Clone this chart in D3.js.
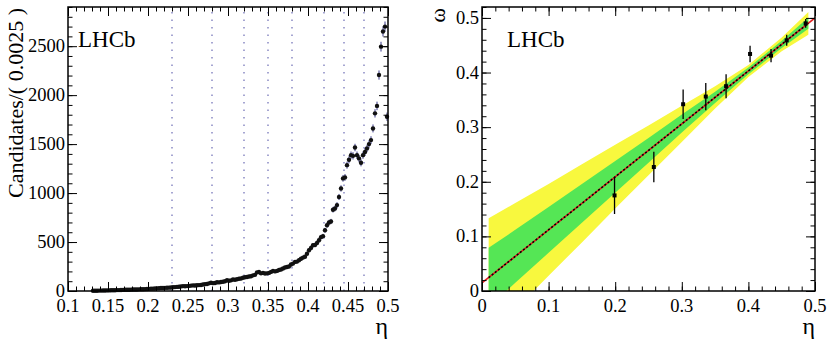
<!DOCTYPE html>
<html>
<head>
<meta charset="utf-8">
<script src="https://cdn.jsdelivr.net/npm/d3@7"></script>
</head>
<body style="margin:0">
<svg id="chart" width="833" height="346"></svg>
<script>
// ---- left panel: eta distribution, bins of 0.0025 from 0.13
var binStart = 0.13, binWidth = 0.0025;
var etaCounts = [
  2,3,3,4,4,5,5,6,
  6,7,8,8,9,9,10,11,
  12,13,13,14,15,15,16,17,
  18,18,19,21,22,24,24,25,
  27,28,30,30,32,33,34,36,
  38,40,42,44,47,50,48,50,
  52,55,57,56,58,60,62,66,
  70,72,78,84,80,82,90,88,
  92,95,100,110,105,109,118,115,
  120,125,128,135,140,143,148,150,
  160,165,190,194,180,185,178,180,
  185,195,205,200,205,215,220,230,
  240,245,250,270,280,297,300,314,
  330,341,350,380,416,440,467,470,
  490,518,550,560,620,672,700,710,
  830,843,877,960,1047,1150,1160,1285,
  1340,1387,1380,1465,1387,1354,1309,1387,
  1420,1456,1500,1541,1660,1814,1890,2205,
  2495,2650,2700,1780
];
var calibEdges = [0.23, 0.28, 0.32, 0.35, 0.38, 0.42, 0.445, 0.47];
var leftXTicks = [0.1, 0.15, 0.2, 0.25, 0.3, 0.35, 0.4, 0.45, 0.5];
var leftYTicks = [0, 500, 1000, 1500, 2000, 2500];

// ---- right panel: calibration omega vs eta
var etaPts   = [0.199, 0.258, 0.302, 0.336, 0.3665, 0.4025, 0.434, 0.4575, 0.486];
var omegaPts = [0.175, 0.227, 0.342, 0.356, 0.375, 0.434, 0.431, 0.459, 0.490];
var omegaErr = [0.034, 0.028, 0.027, 0.025, 0.022, 0.015, 0.012, 0.010, 0.008];
var fitEta = [0, 0.5];
var fitOmega = [0.015, 0.5];
var bandEta  = [0.01, 0.05, 0.1, 0.15, 0.2, 0.25, 0.3, 0.35, 0.4, 0.45, 0.49];
var band1Lo  = [-0.029, 0.015, 0.070, 0.125, 0.180, 0.235, 0.290, 0.344, 0.397, 0.445, 0.480];
var band1Hi  = [0.079, 0.112, 0.154, 0.196, 0.238, 0.280, 0.323, 0.365, 0.409, 0.458, 0.501];
var band2Lo  = [-0.083, -0.034, 0.028, 0.089, 0.151, 0.212, 0.273, 0.334, 0.392, 0.439, 0.469];
var band2Hi  = [0.133, 0.161, 0.196, 0.232, 0.268, 0.303, 0.339, 0.375, 0.414, 0.464, 0.511];
var rightXTicks = [0, 0.1, 0.2, 0.3, 0.4, 0.5];
var rightYTicks = [0, 0.1, 0.2, 0.3, 0.4, 0.5];

var svg = d3.select("#chart");
var FONT = "Liberation Serif";
var FS = 18.5;

function minorTicks(lo, hi, step) {
  var out = [];
  for (var i = 0; lo + i * step <= hi + 1e-9; i++) out.push(+(lo + i * step).toFixed(6));
  return out;
}

// plain serif text helper
function label(g, x, y, size, str) {
  return g.append("text").attr("x", x).attr("y", y)
    .attr("font-family", FONT).attr("font-size", size).text(str);
}

// ROOT-style frame, ticks pointing inward on all four sides
function drawFrame(g, x, y, xt, yt, xMinor, yMinor, xFmt, yFmt) {
  var x0 = x.range()[0], x1 = x.range()[1], y0 = y.range()[1], y1 = y.range()[0];
  var MAJ = 9, MIN = 4.5;
  function ticks(axis, tr, vals, size) {
    var a = g.append("g").attr("transform", tr)
      .call(axis.tickValues(vals).tickSize(-size).tickFormat(""));
    a.select(".domain").remove();
    a.selectAll("text").remove();
    a.selectAll("line").attr("stroke", "#000").attr("stroke-width", 1);
  }
  ticks(d3.axisBottom(x), "translate(0," + y1 + ")", xMinor, MIN);
  ticks(d3.axisTop(x), "translate(0," + y0 + ")", xMinor, MIN);
  ticks(d3.axisLeft(y), "translate(" + x0 + ",0)", yMinor, MIN);
  ticks(d3.axisRight(y), "translate(" + x1 + ",0)", yMinor, MIN);
  ticks(d3.axisBottom(x), "translate(0," + y1 + ")", xt, MAJ);
  ticks(d3.axisTop(x), "translate(0," + y0 + ")", xt, MAJ);
  ticks(d3.axisLeft(y), "translate(" + x0 + ",0)", yt, MAJ);
  ticks(d3.axisRight(y), "translate(" + x1 + ",0)", yt, MAJ);
  xt.forEach(function(v) {
    label(g, x(v), y1 + 21, FS, xFmt(v)).attr("text-anchor", "middle");
  });
  yt.forEach(function(v) {
    label(g, x0 - 3, y(v) + 6, FS, yFmt(v)).attr("text-anchor", "end");
  });
  g.append("rect").attr("x", x0).attr("y", y0).attr("width", x1 - x0).attr("height", y1 - y0)
    .attr("fill", "none").attr("stroke", "#000").attr("stroke-width", 1.5);
}

// ================= left =================
var xL = d3.scaleLinear().domain([0.1, 0.5]).range([68, 388]);
var yL = d3.scaleLinear().domain([0, 2900]).range([291, 7]);
var gL = svg.append("g");

gL.selectAll("line.edge").data(calibEdges).enter().append("line")
  .attr("x1", function(d) { return xL(d); }).attr("x2", function(d) { return xL(d); })
  .attr("y1", yL(0)).attr("y2", yL.range()[1])
  .attr("stroke", "#6c6cb4").attr("stroke-width", 1.2).attr("stroke-dasharray", "1.5,6");

var hist = etaCounts.map(function(c, i) { return { eta: binStart + (i + 0.5) * binWidth, n: c }; });
gL.selectAll("line.err").data(hist).enter().append("line")
  .attr("x1", function(d) { return xL(d.eta); }).attr("x2", function(d) { return xL(d.eta); })
  .attr("y1", function(d) { return yL(d.n + Math.sqrt(d.n)); })
  .attr("y2", function(d) { return yL(Math.max(0, d.n - Math.sqrt(d.n))); })
  .attr("stroke", "#3a3a8a").attr("stroke-width", 1);
gL.selectAll("circle").data(hist).enter().append("circle")
  .attr("cx", function(d) { return xL(d.eta); }).attr("cy", function(d) { return yL(d.n); })
  .attr("r", 2.2).attr("fill", "#111");

drawFrame(gL, xL, yL, leftXTicks, leftYTicks,
  minorTicks(0.1, 0.5, 0.01), minorTicks(0, 2900, 100),
  function(d) { return String(+d.toFixed(2)); }, function(d) { return String(d); });

label(gL, 78, 47, 23, "LHCb");
label(gL, 0, 0, 22, "Candidates/( 0.0025 )")
  .attr("transform", "translate(23,8) rotate(-90)").attr("text-anchor", "end");
label(gL, 388, 334, 24, "η").attr("text-anchor", "end");

// ================= right =================
var xR = d3.scaleLinear().domain([0, 0.5]).range([482, 815]);
var yR = d3.scaleLinear().domain([0, 0.52]).range([291, 7]);
var gR = svg.append("g");

svg.append("clipPath").attr("id", "clipR").append("rect")
  .attr("x", 482).attr("y", 7).attr("width", 333).attr("height", 284);
var gC = gR.append("g").attr("clip-path", "url(#clipR)");

function band(lo, hi) {
  return d3.area().x(function(d, i) { return xR(bandEta[i]); })
    .y0(function(d, i) { return yR(lo[i]); }).y1(function(d, i) { return yR(hi[i]); })(bandEta);
}
gC.append("path").attr("d", band(band2Lo, band2Hi)).attr("fill", "#f8f83e");
gC.append("path").attr("d", band(band1Lo, band1Hi)).attr("fill", "#55e655");

var fitLine = d3.line().x(function(d, i) { return xR(fitEta[i]); }).y(function(d, i) { return yR(fitOmega[i]); });
gC.append("path").attr("d", fitLine(fitEta)).attr("stroke", "#e02020").attr("stroke-width", 1.6).attr("fill", "none");
gC.append("line")
  .attr("x1", xR(bandEta[0])).attr("x2", xR(bandEta[bandEta.length - 1]))
  .attr("y1", yR(fitOmega[0] + (fitOmega[1] - fitOmega[0]) * bandEta[0] / fitEta[1]))
  .attr("y2", yR(fitOmega[0] + (fitOmega[1] - fitOmega[0]) * bandEta[bandEta.length - 1] / fitEta[1]))
  .attr("stroke", "#000").attr("stroke-width", 1.6).attr("stroke-dasharray", "2,2");

var pts = etaPts.map(function(e, i) { return { eta: e, w: omegaPts[i], err: omegaErr[i] }; });
gR.selectAll("line.err").data(pts).enter().append("line")
  .attr("x1", function(d) { return xR(d.eta); }).attr("x2", function(d) { return xR(d.eta); })
  .attr("y1", function(d) { return yR(d.w + d.err); }).attr("y2", function(d) { return yR(d.w - d.err); })
  .attr("stroke", "#000").attr("stroke-width", 1.3);
gR.selectAll("rect.pt").data(pts).enter().append("rect")
  .attr("x", function(d) { return xR(d.eta) - 2; }).attr("y", function(d) { return yR(d.w) - 2; })
  .attr("width", 4).attr("height", 4).attr("fill", "#000");

drawFrame(gR, xR, yR, rightXTicks, rightYTicks,
  minorTicks(0, 0.5, 0.02), minorTicks(0, 0.52, 0.02),
  function(d) { return String(+d.toFixed(1)); }, function(d) { return String(+d.toFixed(1)); });

label(gR, 507, 47, 23, "LHCb");
label(gR, 0, 0, 22, "ω").attr("transform", "translate(445,8) rotate(-90)").attr("text-anchor", "end");
label(gR, 815, 334, 24, "η").attr("text-anchor", "end");
</script>
</body>
</html>
